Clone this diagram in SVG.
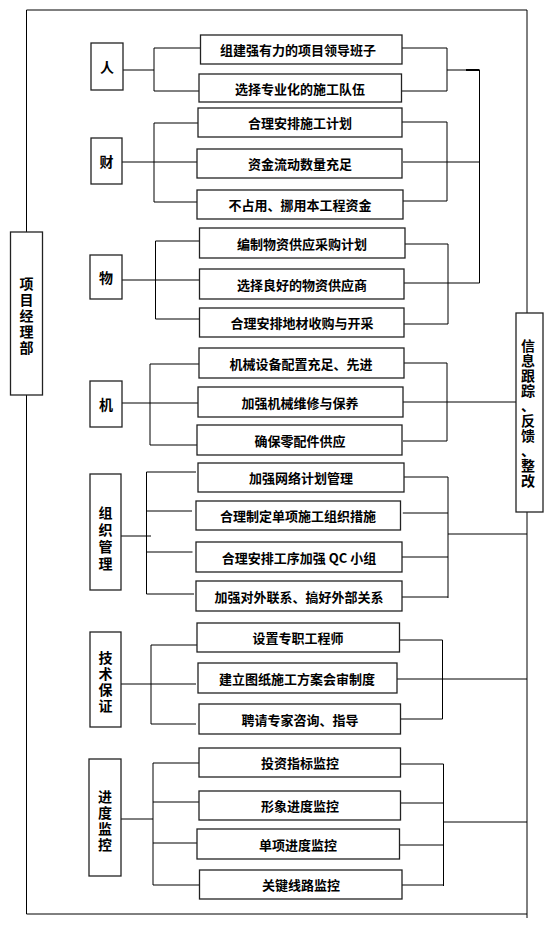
<svg xmlns="http://www.w3.org/2000/svg" width="553" height="925" viewBox="0 0 553 925">
<style>
.bg{fill:#fff}
.box{fill:#fff;stroke:#222;stroke-width:1.3}
.c{fill:none;stroke:#000;stroke-width:1}
.t{font-family:"Noto Sans CJK SC","Noto Sans",sans-serif;font-size:13px;font-weight:bold;text-anchor:middle;dominant-baseline:central;fill:#000}
.v{font-family:"Noto Sans CJK SC","Noto Sans",sans-serif;font-size:14px;font-weight:bold;text-anchor:middle;dominant-baseline:central;fill:#000}
</style>
<rect class="bg" x="0" y="0" width="553" height="925"/>
<g id="frame" class="c">
<path d="M26.5 232 V10 H527 V313 M527 512 V918 M26.5 395 V914 H527"/>
</g>
<g id="connectors" class="c">
<path d="M123 70 H154 M203 48 H154 V91 H199.5"/>
<path d="M402 48 H447 V91 H401.5 M447 70 H479"/>
<path d="M466 70 H479.5" stroke-width="2"/>
<path d="M479.5 70 V283"/>
<path d="M122 162 H199.5 M204 123 H154 V202 H200.5"/>
<path d="M402 122 H447 V201 H403 M403 162 H479.5"/>
<path d="M122 280 H199.5 M204 241 H155.5 V319 H199.5"/>
<path d="M401 244 H448 V324 H404 M404 283 H479.5"/>
<path d="M122 403 H198 M201 364 H150 V445 H197"/>
<path d="M404 363 H447 V441 H403 M401 402 H516"/>
<path d="M121 536 H151 M196 472 H146.5 V594 H194 M146.5 511 H192 M146.5 552 H192.5"/>
<path d="M404 477 H448 V598 M402.8 513 H448 M401.8 557 H448 M401.8 597 H448 M448 534 H527"/>
<path d="M121 684 H196 M199.5 645 H151 V724 H196"/>
<path d="M399 640 H442.5 V719 H400.4 M397 679 H527"/>
<path d="M121 819 H153 M201 763 H153 V885 H199.5 M153 802 H199.5 M153 843 H198"/>
<path d="M395 764 H443.5 V886 M399.3 803 H443.5 M397.5 845 H443.5 M399.3 885 H443.5 M443.5 822 H527"/>
</g>
<g id="pm"><rect class="box" x="10.5" y="232" width="32" height="163"/>
<text class="v" x="26.5" font-size="13"><tspan x="26.5" y="283">项</tspan><tspan x="26.5" y="299">目</tspan><tspan x="26.5" y="315">经</tspan><tspan x="26.5" y="331">理</tspan><tspan x="26.5" y="347">部</tspan></text></g>
<g id="info"><rect class="box" x="516" y="313" width="27" height="199"/>
<text class="v" font-size="13"><tspan x="528" y="345">信</tspan><tspan x="528" y="360">息</tspan><tspan x="528" y="375">跟</tspan><tspan x="528" y="390">踪</tspan><tspan x="528" y="405">、</tspan><tspan x="528" y="420">反</tspan><tspan x="528" y="435">馈</tspan><tspan x="528" y="450">、</tspan><tspan x="528" y="465">整</tspan><tspan x="528" y="480">改</tspan></text></g>
<g id="ren"><rect class="box" x="91" y="43" width="32" height="47"/><text class="v" x="107" y="66">人</text></g>
<g id="cai"><rect class="box" x="91" y="138" width="31" height="46"/><text class="v" x="106.5" y="161">财</text></g>
<g id="wu"><rect class="box" x="90" y="255" width="32" height="44"/><text class="v" x="106" y="277">物</text></g>
<g id="ji"><rect class="box" x="90" y="381" width="32" height="46"/><text class="v" x="106" y="404">机</text></g>
<g id="zz"><rect class="box" x="90" y="474" width="31" height="116"/>
<text class="v"><tspan x="105.5" y="512">组</tspan><tspan x="105.5" y="529">织</tspan><tspan x="105.5" y="546">管</tspan><tspan x="105.5" y="563">理</tspan></text></g>
<g id="js"><rect class="box" x="90" y="632" width="31" height="95"/>
<text class="v"><tspan x="105.5" y="657">技</tspan><tspan x="105.5" y="673">术</tspan><tspan x="105.5" y="689">保</tspan><tspan x="105.5" y="705">证</tspan></text></g>
<g id="jd"><rect class="box" x="89" y="759" width="32" height="117"/>
<text class="v"><tspan x="105" y="796">进</tspan><tspan x="105" y="812">度</tspan><tspan x="105" y="828">监</tspan><tspan x="105" y="844">控</tspan></text></g>
<g id="r1"><rect class="box" x="200.5" y="35" width="201.5" height="29"/><text class="t" x="298" y="49.5">组建强有力的项目领导班子</text></g>
<g id="r2"><rect class="box" x="199" y="74" width="202.5" height="28"/><text class="t" x="300" y="88">选择专业化的施工队伍</text></g>
<g id="c1"><rect class="box" x="198" y="108" width="204" height="29"/><text class="t" x="300" y="122.5">合理安排施工计划</text></g>
<g id="c2"><rect class="box" x="197" y="149" width="205" height="29"/><text class="t" x="300" y="163.5">资金流动数量充足</text></g>
<g id="c3"><rect class="box" x="197" y="190" width="206" height="29"/><text class="t" x="300" y="204.5">不占用、挪用本工程资金</text></g>
<g id="w1"><rect class="box" x="199.5" y="228" width="205.5" height="30"/><text class="t" x="302" y="243">编制物资供应采购计划</text></g>
<g id="w2"><rect class="box" x="199.5" y="269" width="204.5" height="30"/><text class="t" x="302" y="284">选择良好的物资供应商</text></g>
<g id="w3"><rect class="box" x="199.5" y="308" width="204.5" height="29"/><text class="t" x="302" y="322.5">合理安排地材收购与开采</text></g>
<g id="j1"><rect class="box" x="199" y="348" width="205" height="30"/><text class="t" x="301" y="363">机械设备配置充足、先进</text></g>
<g id="j2"><rect class="box" x="198" y="387" width="205" height="30"/><text class="t" x="300" y="402">加强机械维修与保养</text></g>
<g id="j3"><rect class="box" x="197" y="425" width="205" height="30"/><text class="t" x="300" y="440">确保零配件供应</text></g>
<g id="z1"><rect class="box" x="198" y="463" width="206" height="29"/><text class="t" x="301" y="477.5">加强网络计划管理</text></g>
<g id="z2"><rect class="box" x="196" y="501" width="204.5" height="29"/><text class="t" x="298" y="515.5">合理制定单项施工组织措施</text></g>
<g id="z3"><rect class="box" x="196" y="542" width="206" height="30"/><text class="t" x="299" y="557">合理安排工序加强 QC 小组</text></g>
<g id="z4"><rect class="box" x="196" y="581" width="206" height="30"/><text class="t" x="299" y="596">加强对外联系、搞好外部关系</text></g>
<g id="s1"><rect class="box" x="197" y="623" width="202.5" height="29"/><text class="t" x="298" y="637.5">设置专职工程师</text></g>
<g id="s2"><rect class="box" x="198" y="663" width="199" height="30"/><text class="t" x="297" y="678">建立图纸施工方案会审制度</text></g>
<g id="s3"><rect class="box" x="199" y="704" width="201.5" height="30"/><text class="t" x="300" y="719">聘请专家咨询、指导</text></g>
<g id="p1"><rect class="box" x="199" y="748" width="201.5" height="29"/><text class="t" x="300" y="762.5">投资指标监控</text></g>
<g id="p2"><rect class="box" x="199" y="791" width="201.5" height="29"/><text class="t" x="300" y="805.5">形象进度监控</text></g>
<g id="p3"><rect class="box" x="197" y="829" width="202.5" height="30"/><text class="t" x="298" y="844">单项进度监控</text></g>
<g id="p4"><rect class="box" x="199.5" y="870" width="202.5" height="29"/><text class="t" x="301" y="884.5">关键线路监控</text></g>
</svg>
